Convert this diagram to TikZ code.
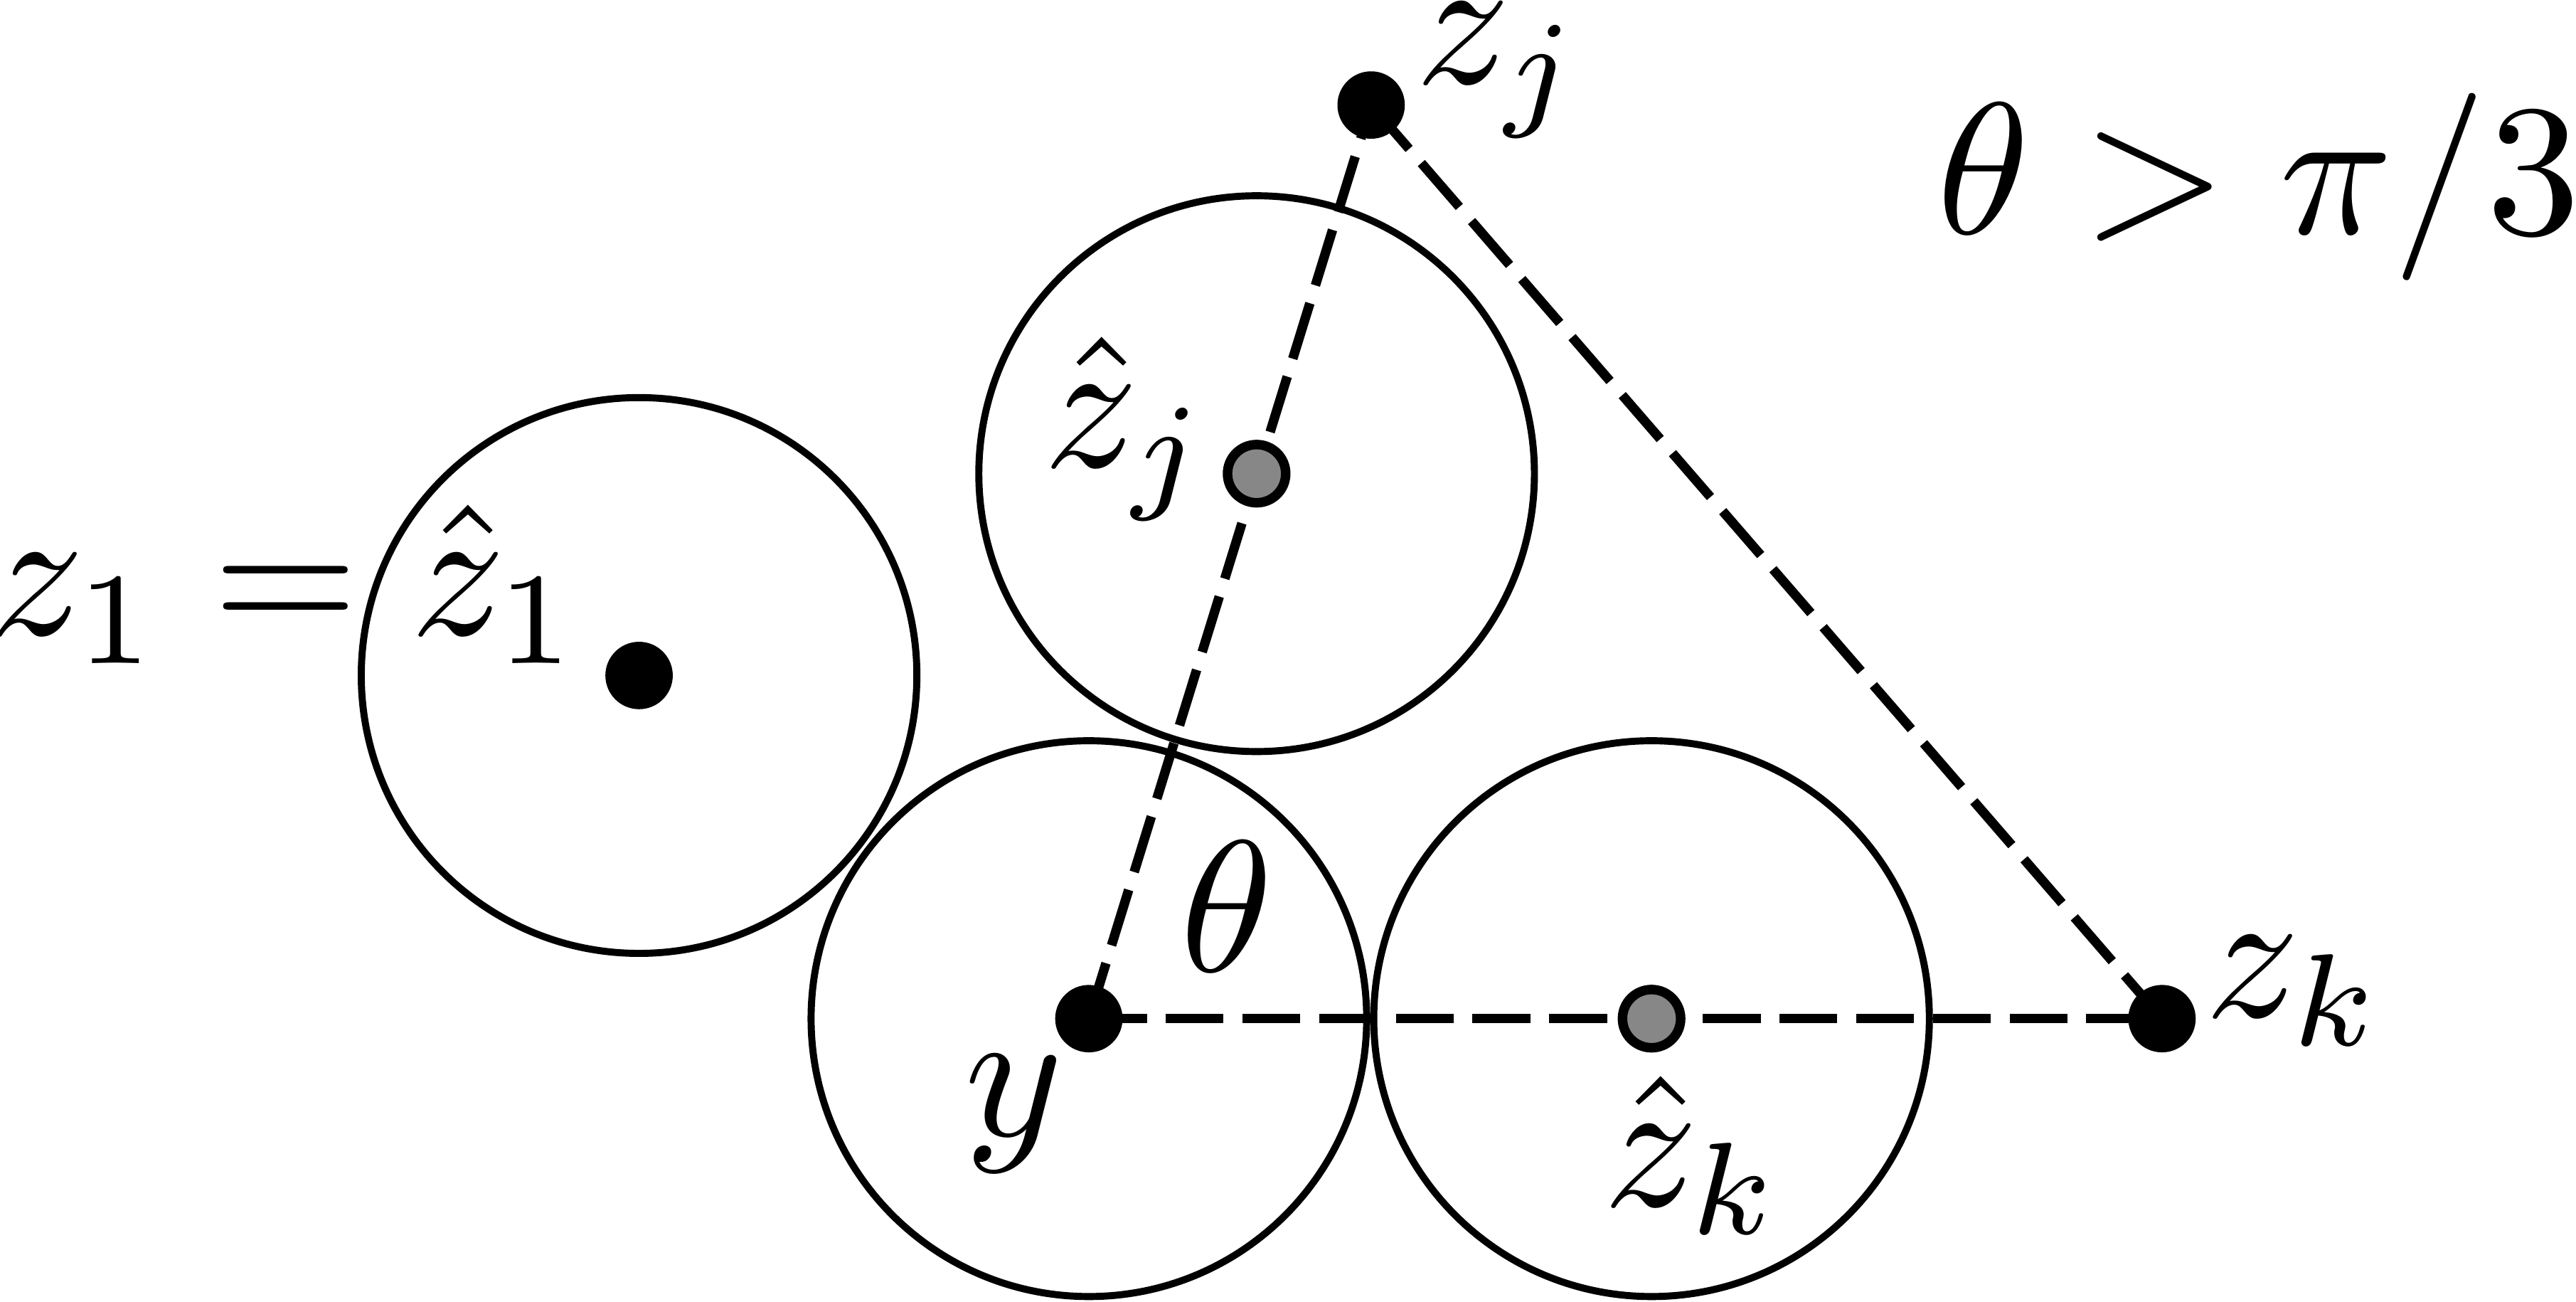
\documentclass[tikz,border=0pt]{standalone}
\usepackage{tikz}
\tikzset{
  ball/.style={circle, draw, line width=1.22pt, minimum size=3.38cm, inner sep=0pt},
  dotpt/.style={circle, fill=black, minimum size=0.41cm, inner sep=0pt},
  hatpt/.style={circle, draw, fill=black!47, line width=1.65pt, minimum size=0.354cm, inner sep=0pt},
  link/.style={line width=1.64pt, dash pattern=on 10.04pt off 3.24pt},
  lbl/.style={inner sep=0pt, anchor=base west, scale=3.24, transform shape}
}
\begin{document}
\begin{tikzpicture}[x=0.01cm, y=-0.01cm]
\useasboundingbox (0,0) rectangle (1568,791.8);

\coordinate (z1) at (389,411);
\coordinate (zj) at (834.6,63.9);
\coordinate (hzj) at (764.9,288.2);
\coordinate (y) at (662.8,619.8);
\coordinate (hzk) at (1005.3,619.8);
\coordinate (zk) at (1316,619.8);

\node[ball] (ball1) at (z1) {};
\node[ball] (ballj) at (hzj) {};
\node[ball] (bally) at (y) {};
\node[ball] (ballk) at (hzk) {};

\draw[link] (y) -- (zj);
\draw[link] (zj) -- (zk);
\draw[link] (y) -- (zk);

\node[dotpt] (z1dot) at (z1) {};
\node[dotpt] (zjdot) at (zj) {};
\node[dotpt] (ydot) at (y) {};
\node[dotpt] (zkdot) at (zk) {};
\node[hatpt] (hzjdot) at (hzj) {};
\node[hatpt] (hzkdot) at (hzk) {};

\node[lbl] (z1lbl) at (-8.5,386.4) {$z_1 = \hat{z}_1$};
\node[lbl] (zjlbl) at (859.5,51) {$z_j$};
\node[lbl] (hzjlbl) at (633,284) {$\hat{z}_j$};
\node[lbl] (hzklbl) at (973.5,734) {$\hat{z}_k$};
\node[lbl] (zklbl) at (1340,619) {$z_k$};
\node[lbl] (ylbl) at (585,691) {$y$};
\node[lbl] (anglbl) at (716,591) {$\theta$};
\node[lbl, anchor=base east] (condlbl) at (1573,142) {$\theta > \pi/3$};
\end{tikzpicture}
\end{document}
